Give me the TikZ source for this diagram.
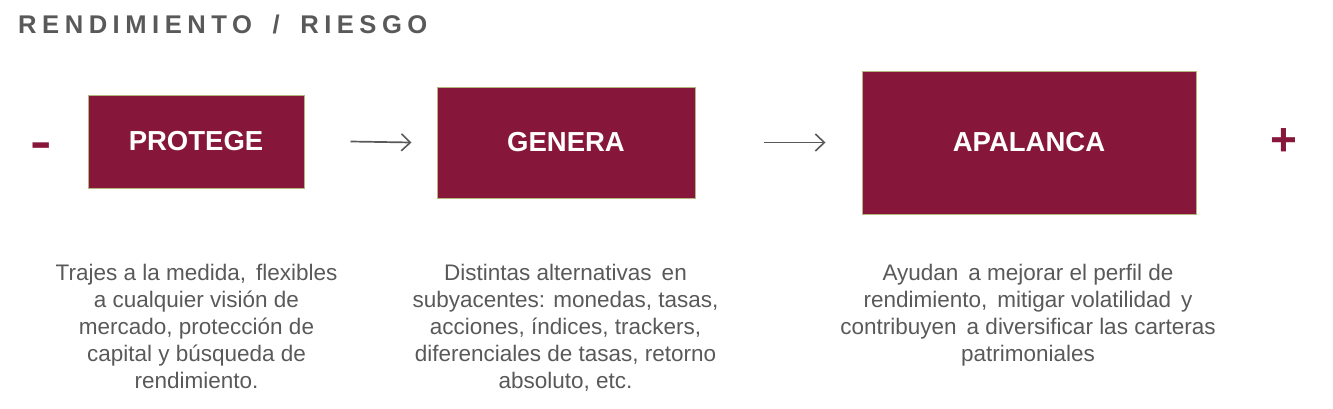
\documentclass[tikz,border=0pt]{standalone}
\usepackage{fontspec}
\setmainfont{Liberation Sans}
\newfontfamily\titlefont{Liberation Sans}[LetterSpace=21.5]
\usetikzlibrary{arrows.meta}
\definecolor{maroon}{HTML}{86173A}
\definecolor{olive}{HTML}{B4B67E}
\definecolor{txtgray}{HTML}{595959}
\tikzset{
  box/.style={draw=olive, line width=1pt, fill=maroon, inner sep=0pt, text=white,
    font=\fontsize{27.5}{32}\selectfont\bfseries},
  desc/.style={anchor=north, inner sep=0pt, align=center, text=txtgray,
    font=\fontsize{22.5}{27}\selectfont},
  sign/.style={inner sep=0pt, text=maroon, font=\fontsize{46}{50}\selectfont\bfseries},
  arr/.style={draw=txtgray, line width=1.7pt, -{Straight Barb[length=9pt,width=17pt,line width=1.6pt]}}
}
\begin{document}
\begin{tikzpicture}[x=1pt,y=-1pt]
\useasboundingbox (0,0) rectangle (1333,408);
\node[anchor=base west, inner sep=0pt, text=txtgray] (title) at (18,33)
  {\fontsize{25.6}{30}\titlefont\bfseries RENDIMIENTO\hspace{8pt} / \hspace{8pt}RIESGO};
\node[box, minimum width=216pt, minimum height=93pt] (p) at (196,141.5) {PROTEGE};
\node[box, minimum width=258pt, minimum height=111pt] (g) at (566,142.5) {GENERA};
\node[box, minimum width=334pt, minimum height=143pt] (a) at (1029,142.5) {APALANCA};
\node[sign] (minus) at (41,150) {\scalebox{1.4}[1]{-}};
\node[sign] (plus) at (1283.5,142) {+};
\draw[arr] ([xshift=46pt]p.east) -- ([xshift=-25pt]g.west);
\draw[arr] ([xshift=68pt]g.east) -- ([xshift=-36pt]a.west);
\node[desc] (d1) at (196.5,263.5) {Trajes a la medida,\, flexibles\\a cualquier visión de\\mercado, protección de\\capital y búsqueda de\\rendimiento.};
\node[desc] (d2) at (565.5,263.5) {Distintas alternativas \,en\\subyacentes: monedas, tasas,\\acciones, índices, trackers,\\diferenciales de tasas, retorno\\absoluto, etc.};
\node[desc] (d3) at (1028,263.5) {Ayudan \,a mejorar el perfil de\\rendimiento, \,mitigar volatilidad \,y\\contribuyen \,a diversificar las carteras\\patrimoniales};
\end{tikzpicture}
\end{document}
